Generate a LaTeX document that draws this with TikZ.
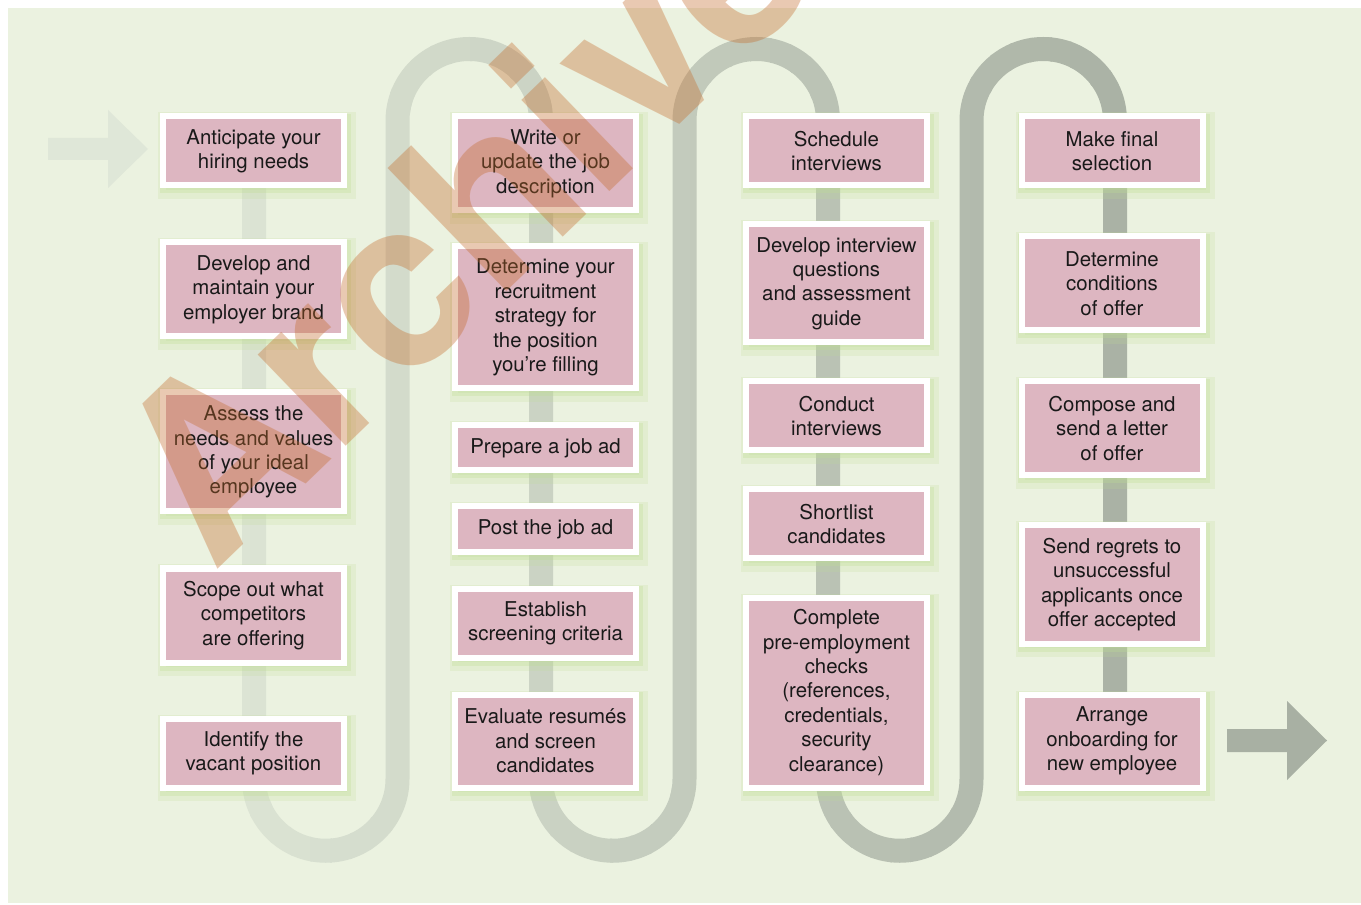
\documentclass[tikz,border=0pt]{standalone}
\usepackage{fontspec}
\setmainfont{TeX Gyre Heros}
\definecolor{pagegreen}{HTML}{EBF2E0}
\definecolor{boxpink}{HTML}{DDB6C1}
\definecolor{glowgreen}{HTML}{BEDD94}
\definecolor{bandlight}{HTML}{DCE4D4}
\definecolor{banddark}{HTML}{A9B1A4}
\definecolor{arrowin}{HTML}{DFE7D8}
\definecolor{arrowout}{HTML}{A8B0A3}
\definecolor{wmark}{HTML}{C46A2A}
\tikzset{
  glow/.style={
    preaction={fill=glowgreen,draw=glowgreen,line width=13pt,opacity=.2,
      transform canvas={shift={(2.5pt,-3.5pt)}}},
    preaction={fill=glowgreen,draw=glowgreen,line width=8pt,opacity=.3,
      transform canvas={shift={(1.5pt,-2pt)}}}},
  stepbox/.style={glow,fill=boxpink,draw=white,line width=4.5pt,
    minimum width=135.75pt,inner sep=0pt,align=center,text=black!90,
    font=\fontsize{15.3}{18.3}\selectfont},
  band/.style={line width=18pt}
}
\begin{document}
\begin{tikzpicture}[x=0.75pt,y=-0.75pt]
   \useasboundingbox (0,0) rectangle (1361,905);
   \fill[white] (0,0) rectangle (1361,905);
   \fill[pagegreen] (8,8) rectangle (1361,903);
   % in and out arrows
   \fill[arrowin] (48,138) -- (108,138) -- (108,110) -- (148,149) -- (108,188) -- (108,160) -- (48,160) -- cycle;
   \fill[arrowout] (1227,729) -- (1287,729) -- (1287,701) -- (1327,740.5) -- (1287,780) -- (1287,752) -- (1227,752) -- cycle;
   % the winding band, light on the left and dark on the right
   \foreach \i in {0,...,45} {
     \pgfmathsetmacro\pct{\i*100/45}
     \begin{scope}
       \clip (230+\i*20,0) rectangle (252+\i*20,905);
       \draw[band,color=banddark!\pct!bandlight]
         (254,150) -- (254,779) arc[start angle=180,end angle=0,radius=71.75]
         -- (397.5,120.75) arc[start angle=180,end angle=360,radius=71.75]
         -- (541,779) arc[start angle=180,end angle=0,radius=71.75]
         -- (684.5,120.75) arc[start angle=180,end angle=360,radius=71.75]
         -- (828,779) arc[start angle=180,end angle=0,radius=71.75]
         -- (971.5,120.75) arc[start angle=180,end angle=360,radius=71.75]
         -- (1115,760);
     \end{scope}
   }
   % column 1
   \node[stepbox,minimum height=51.75pt] (a1) at (253.5,151) {Anticipate your\\hiring needs};
   \node[stepbox,minimum height=70.5pt]  (a2) at (253.5,289.5) {Develop and\\maintain your\\employer brand};
   \node[stepbox,minimum height=89.25pt] (a3) at (253.5,452) {Assess the\\needs and values\\of your ideal\\employee};
   \node[stepbox,minimum height=70.5pt]  (a4) at (253.5,615.5) {Scope out what\\competitors\\are offering};
   \node[stepbox,minimum height=51.75pt] (a5) at (253.5,753) {Identify the\\vacant position};
   % column 2
   \node[stepbox,minimum height=70.5pt]  (b1) at (545.5,163.5) {Write or\\update the job\\description};
   \node[stepbox,minimum height=106.5pt] (b2) at (545.5,317.5) {Determine your\\recruitment\\strategy for\\the position\\you’re filling};
   \node[stepbox,minimum height=33.75pt] (b3) at (545.5,448) {Prepare a job ad};
   \node[stepbox,minimum height=34.5pt]  (b4) at (545.5,529.5) {Post the job ad};
   \node[stepbox,minimum height=51.75pt] (b5) at (545.5,623) {Establish\\screening criteria};
   \node[stepbox,minimum height=69.75pt] (b6) at (545.5,741) {Evaluate resumés\\and screen\\candidates};
   % column 3
   \node[stepbox,minimum height=51.75pt] (c1) at (836.5,151) {Schedule\\interviews};
   \node[stepbox,minimum height=88.5pt]  (c2) at (836.5,283.5) {Develop interview\\questions\\and assessment\\guide};
   \node[stepbox,minimum height=51.75pt] (c3) at (836.5,416) {Conduct\\interviews};
   \node[stepbox,minimum height=51.75pt] (c4) at (836.5,524) {Shortlist\\candidates};
   \node[stepbox,minimum height=142.5pt] (c5) at (836.5,692.5) {Complete\\pre-employment\\checks\\(references,\\credentials,\\security\\clearance)};
   % column 4
   \node[stepbox,minimum height=51.75pt] (d1) at (1112,151) {Make final\\selection};
   \node[stepbox,minimum height=70.5pt]  (d2) at (1112,283.5) {Determine\\conditions\\of offer};
   \node[stepbox,minimum height=70.5pt]  (d3) at (1112,428.5) {Compose and\\send a letter\\of offer};
   \node[stepbox,minimum height=88.5pt]  (d4) at (1112,584.5) {Send regrets to\\unsuccessful\\applicants once\\offer accepted};
   \node[stepbox,minimum height=69.75pt] (d5) at (1112,741) {Arrange\\onboarding for\\new employee};
   % watermark
   \node[text=wmark,text opacity=.36,rotate=44,font=\bfseries\fontsize{176}{176}\selectfont] (wm) at (462,214) {Archive};
\end{tikzpicture}
\end{document}
